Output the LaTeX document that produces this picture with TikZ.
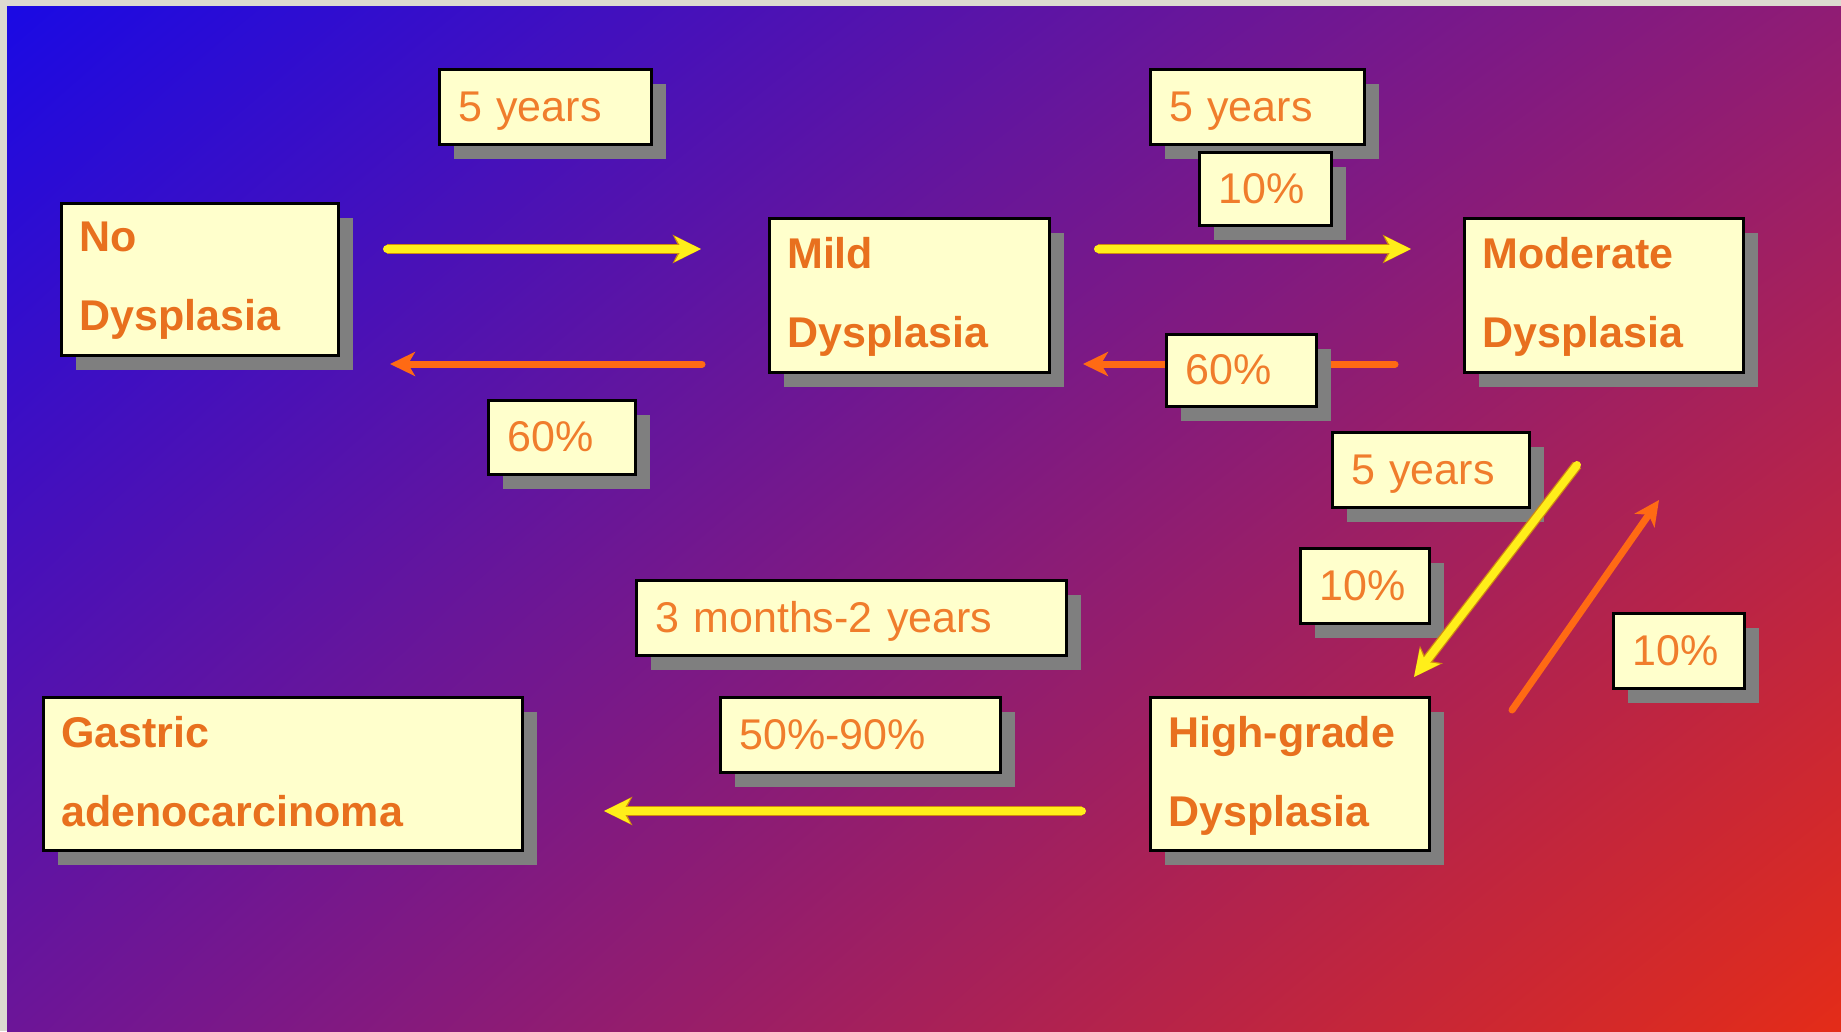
\documentclass[tikz,border=0pt]{standalone}
\usepackage{fontspec}
\setmainfont{Liberation Sans}
\usetikzlibrary{arrows.meta,calc,shadows,shadings}
\definecolor{bgborder}{HTML}{DCDAD0}
\definecolor{cTL}{HTML}{1A0AE4}
\definecolor{cTR}{HTML}{901C74}
\definecolor{cBL}{HTML}{6C1598}
\definecolor{cBR}{HTML}{E42C18}
\definecolor{boxfill}{HTML}{FFFFCC}
\definecolor{shadowgray}{HTML}{7F7F7F}
\definecolor{txtbold}{HTML}{E8701E}
\definecolor{txtreg}{HTML}{F07D2C}
\definecolor{arryellow}{HTML}{FFEE1A}
\definecolor{yedge}{HTML}{D08A10}
\definecolor{arrorange}{HTML}{FF6A14}
\tikzset{
  boxshadow/.style={general shadow={fill=shadowgray, shadow xshift=15pt, shadow yshift=-15pt}},
  mainbox/.style={draw=black, line width=2.5pt, fill=boxfill, anchor=north west, inner sep=0pt, boxshadow},
  maintxt/.style={anchor=north west, inner sep=0pt, align=left, text=txtbold,
    font=\fontsize{43}{79}\selectfont\bfseries},
  lblbox/.style={draw=black, line width=2.5pt, fill=boxfill, anchor=north west, inner xsep=19pt, inner ysep=0pt,
    text height=37pt, text depth=8pt, align=left, text=txtreg, font=\fontsize{43}{50}\selectfont, boxshadow},
  yarrow/.style={draw=arryellow, line width=8pt, line cap=round, -{Stealth[length=26pt,width=25pt,inset=7pt]},
    preaction={draw=yedge, line width=10.5pt, -{Stealth[length=28pt,width=28pt,inset=7pt]}}},
  oarrow/.style={draw=arrorange, line width=7pt, line cap=round, -{Stealth[length=25pt,width=24pt,inset=7pt]}},
}
\begin{document}
\begin{tikzpicture}[x=1pt,y=-1pt]
\useasboundingbox (0,0) rectangle (1841,1031);
\fill[bgborder] (0,0) rectangle (1841,1031);
\shade[shading=bilinear interpolation, upper left=cTL, upper right=cTR, lower left=cBL, lower right=cBR] (7,6) rectangle (1841,1031);

% arrow end coordinates
\coordinate (a1s) at (387,249);  \coordinate (a1e) at (701,249);
\coordinate (a2s) at (702,364);  \coordinate (a2e) at (390,364);
\coordinate (a3s) at (1098,249); \coordinate (a3e) at (1411,249);
\coordinate (a4s) at (1395,364); \coordinate (a4e) at (1083,364);
\coordinate (a5s) at (1577,465); \coordinate (a5e) at (1414,677);
\coordinate (a6s) at (1512,710); \coordinate (a6e) at (1659,500);
\coordinate (a7s) at (1082,811); \coordinate (a7e) at (604,811);

\draw[yarrow] (a1s) -- (a1e);
\draw[oarrow] (a2s) -- (a2e);
\draw[yarrow] (a3s) -- (a3e);
\draw[oarrow] (a4s) -- (a4e);
\draw[oarrow] (a6s) -- (a6e);
\draw[yarrow] (a7s) -- (a7e);

% main boxes
\node[mainbox, minimum width=277pt, minimum height=152pt] (nodys) at (60,202) {};
\node[maintxt] (nodystxt) at ([shift={(19,20)}]nodys.north west) {No\\Dysplasia};
\node[mainbox, minimum width=280pt, minimum height=154pt] (mild) at (768,217) {};
\node[maintxt] (mildtxt) at ([shift={(19,20)}]mild.north west) {Mild\\Dysplasia};
\node[mainbox, minimum width=279pt, minimum height=154pt] (mod) at (1463,217) {};
\node[maintxt] (modtxt) at ([shift={(19,20)}]mod.north west) {Moderate\\Dysplasia};
\node[mainbox, minimum width=479pt, minimum height=153pt] (gastric) at (42,696) {};
\node[maintxt] (gastrictxt) at ([shift={(19,20)}]gastric.north west) {Gastric\\adenocarcinoma};
\node[mainbox, minimum width=279pt, minimum height=153pt] (high) at (1149,696) {};
\node[maintxt] (hightxt) at ([shift={(19,20)}]high.north west) {High-grade\\Dysplasia};

% label boxes
\node[lblbox, text width=174pt, minimum height=75pt] (lA) at (438,68) {5 years};
\node[lblbox, text width=176pt, minimum height=75pt] (lB) at (1149,68) {5 years};
\node[lblbox, text width=94pt, minimum height=73pt] (lC) at (1198,151) {10\%};
\node[lblbox, text width=109pt, minimum height=74pt] (lD) at (487,399) {60\%};
\node[lblbox, text width=112pt, minimum height=72pt] (lE) at (1165,333) {60\%};
\node[lblbox, text width=159pt, minimum height=75pt] (lF) at (1331,431) {5 years};
\node[lblbox, text width=91pt, minimum height=75pt] (lG) at (1299,547) {10\%};
\node[lblbox, text width=93pt, minimum height=75pt] (lH) at (1612,612) {10\%};
\node[lblbox, text width=392pt, minimum height=75pt] (lI) at (635,579) {3 months-2 years};
\node[lblbox, text width=242pt, minimum height=75pt] (lJ) at (719,696) {50\%-90\%};

\draw[yarrow] (a5s) -- (a5e);
\end{tikzpicture}
\end{document}
